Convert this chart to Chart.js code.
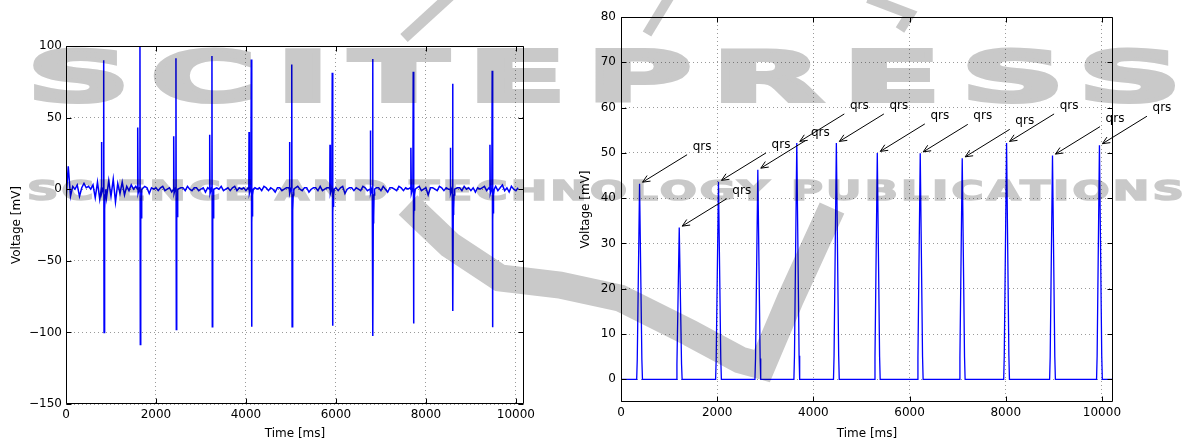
<!DOCTYPE html>
<html>
<head>
<meta charset="utf-8">
<title>ECG signal and QRS detection</title>
<script src="https://cdn.jsdelivr.net/npm/chart.js@4.4.1/dist/chart.umd.min.js"></script>
<style>
  html, body { margin: 0; padding: 0; background: #fff; }
  #page { position: relative; width: 1192px; height: 444px; overflow: hidden; background: #fff; }
  #charts { position: absolute; left: 0; top: 0; width: 1192px; height: 444px; }
  #wm { position: absolute; left: 0; top: 0; width: 1192px; height: 444px; mix-blend-mode: multiply; }
  .wm { position: absolute; left: 0; color: #c9c9c9; font-family: "DejaVu Sans"; font-weight: bold;
        white-space: nowrap; transform-origin: 0 0; }
  #wm-title { top: 42px; font-size: 70px; line-height: 70px; letter-spacing: 10px;
              -webkit-text-stroke: 4px #c9c9c9; }
  #wm-sub { top: 177px; font-size: 27px; line-height: 27px; letter-spacing: 2px;
            -webkit-text-stroke: 1.5px #c9c9c9; }
  #wm-shapes { position: absolute; left: 0; top: 0; }
  canvas { position: absolute; top: 0; }
  #ecgChart { left: 0; }
  #qrsChart { left: 540px; }
</style>
</head>
<body>
<div id="page">
  <div id="charts">
    <canvas id="ecgChart" width="540" height="444"></canvas>
    <canvas id="qrsChart" width="652" height="444"></canvas>
  </div>
  <div id="wm">
    <div class="wm" id="wm-title">SCITEPRESS</div>
    <div class="wm" id="wm-sub">SCIENCE AND TECHNOLOGY PUBLICATIONS</div>
    <svg id="wm-shapes" width="1192" height="444">
      <g fill="none" stroke="#c9c9c9">
        <polyline points="408,205 450,245 500,278 560,285 620,298 690,333 740,360 762,366 790,300 832,208" stroke-width="27" />
        <line x1="450" y1="-4" x2="404" y2="38" stroke-width="11" />
        <line x1="670" y1="-4" x2="647" y2="34" stroke-width="10" />
        <polyline points="868,-2 910,14 900,30" stroke-width="10" />
      </g>
    </svg>
  </div>
</div>
<script>
// --- Left panel: raw ECG (mV), baseline sampled every 50 ms ---
const ecgStepMs = 50;
const ecgNoise = [
  -8, 16, -5, 2, 0, 3, -5, 1, 4, 1, 2, 0,
  3, -6, 5, -7, 4, 0,
  -6, 6, -5, 7, -9, 4, -3, 5, -4,
  2, -1, 3, 0, 2, -1, 0,
  -1, 2, 1, -3, 1, 0, 1, -1, 1, 2, -1, 0, 1, -2, 1, 0,
  -4, 1, 1, -1, 2, 0, -1, 1, 1, -1, 0, 1, -2, 1, 0, 0,
  -3, 1, 0, 2, -1, 0, 1, -1, 1, 2, -1, 1, 0, 1, -1, 1, 0,
  -4, 1, 0, 1, -1, 2, 1, -1, 1, 0, -2, 1, 1, -1, 0, 1, 1, 0,
  -3, 1, 2, 0, -1, 1, 1, -2, 0, 1, 1, -1, 2, -1, 0, 1, 1, 0,
  -4, 1, -1, 1, 2, -3, 0, 1, 1, -1, 1, 0, -1, 2, 1, -1, 0, 0,
  -5, 1, 1, -1, 2, 0, -2, 1, 1, 0, -1, 2, 1, -1, 1, 0, 1, 0,
  -3, 1, 2, -1, 0, 1, -4, 1, 1, 0, -1, 2, 1, -1, 1, 0, 1, 0,
  -4, 1, 1, -1, 2, 0, 1, -1, 1, -2, 1, 0, 1, 2, -1, 1, 0,
  -3, 2, -1, 1, 3, -1, 1, -2, 2, 0, -1, 1
];
const beatTimes  = [838, 1644, 2444, 3244, 4118, 5018, 5918, 6815, 7718, 8593, 9473];
const beatPre    = [33, 43, 37, 38, 40, 33, 31, 41, 29, 29, 31];
const beatPeak   = [90, 100, 91.5, 93, 90.6, 87, 81.4, 91, 82, 73.7, 82.8];
const beatTrough = [-100, -108.5, -98, -96, -96, -96, -95.3, -102.5, -93.7, -85, -96.4];
const beatSt     = [-18, -24, -23, -24, -23, -19, -16.5, -23.5, -19, -17.5, -21];
const beatOffsets = [-55, -50, -42, -8, 0, 8, 14, 20, 26, 32, 45];

const ecgXTicks = [0, 2000, 4000, 6000, 8000, 10000];
const ecgYTicks = [-150, -100, -50, 0, 50, 100];

// --- Right panel: QRS detector output (mV) ---
const qrsTimes = [386, 1211, 2027, 2845, 3655, 4478, 5329, 6222, 7095, 8017, 8972, 9948];
const qrsPeaks = [43.2, 33.5, 43.6, 46.3, 52.2, 52.2, 50, 49.9, 48.8, 52.2, 49.4, 51.7];
const qrsShapeOffsets = [-60, -48, 0, 48, 60];
const qrsShapeLevels  = [0, 0.1, 1, 0.1, 0];
const qrsEndTime = 10230;
const qrsLabel = 'qrs';
const qrsLabelDx = 1300;   // ms, text offset from the peak
const qrsLabelDy = 7.5;    // mV

const qrsXTicks = [0, 2000, 4000, 6000, 8000, 10000];
const qrsYTicks = [0, 10, 20, 30, 40, 50, 60, 70, 80];

Chart.defaults.font.family = '"DejaVu Sans"';
Chart.defaults.font.size = 12;
Chart.defaults.color = '#000';

// build ECG points
const ecgPoints = [];
ecgNoise.forEach((v, i) => {
  const t = i * ecgStepMs;
  if (beatTimes.some(b => Math.abs(t - b) <= 60)) return;
  ecgPoints.push({x: t, y: v});
});
beatTimes.forEach((t, i) => {
  const vals = [0, beatPre[i], -3, 1, beatPeak[i], beatTrough[i], beatSt[i], -6, beatSt[i] + 4, -4, 0];
  beatOffsets.forEach((o, k) => ecgPoints.push({x: t + o, y: vals[k]}));
});
ecgPoints.sort((a, b) => a.x - b.x);

// build QRS points
const qrsPoints = [{x: 0, y: 0}];
qrsTimes.forEach((t, i) => {
  qrsShapeOffsets.forEach((o, k) => qrsPoints.push({x: t + o, y: qrsPeaks[i] * qrsShapeLevels[k]}));
});
qrsPoints.push({x: qrsEndTime, y: 0});

const minus = v => String(v).replace('-', '\u2212');

// full box + inward ticks like the classic matplotlib look
const frameTicks = {
  id: 'frameTicks',
  afterDatasetsDraw(chart) {
    const {ctx, chartArea: a, scales: {x, y}} = chart;
    const L = Math.round(a.left) + 0.5, R = Math.round(a.right) - 0.5;
    const T = Math.round(a.top) + 0.5, B = Math.round(a.bottom) - 0.5;
    ctx.save();
    ctx.strokeStyle = '#000';
    ctx.lineWidth = 1;
    ctx.beginPath();
    x.ticks.forEach(t => {
      const px = Math.round(x.getPixelForValue(t.value)) + 0.5;
      ctx.moveTo(px, B); ctx.lineTo(px, B - 5);
      ctx.moveTo(px, T); ctx.lineTo(px, T + 5);
    });
    y.ticks.forEach(t => {
      const py = Math.round(y.getPixelForValue(t.value)) + 0.5;
      ctx.moveTo(L, py); ctx.lineTo(L + 5, py);
      ctx.moveTo(R, py); ctx.lineTo(R - 5, py);
    });
    ctx.rect(L, T, R - L, B - T);
    ctx.stroke();
    ctx.restore();
  }
};

// "qrs" labels with open arrows
const qrsArrows = {
  id: 'qrsArrows',
  afterDatasetsDraw(chart) {
    const {ctx, scales: {x, y}} = chart;
    ctx.save();
    ctx.font = '12px "DejaVu Sans"';
    ctx.fillStyle = '#000';
    ctx.strokeStyle = '#000';
    ctx.lineWidth = 1;
    ctx.textAlign = 'center';
    ctx.textBaseline = 'alphabetic';
    qrsTimes.forEach((t, i) => {
      const px = x.getPixelForValue(t), py = y.getPixelForValue(qrsPeaks[i]);
      const tx = x.getPixelForValue(t + qrsLabelDx), ty = y.getPixelForValue(qrsPeaks[i] + qrsLabelDy);
      ctx.fillText(qrsLabel, tx, ty);
      const x0 = tx - 15, y0 = ty + 5, x1 = px + 3, y1 = py - 1.5;
      const ang = Math.atan2(y1 - y0, x1 - x0);
      ctx.beginPath();
      ctx.moveTo(x0, y0); ctx.lineTo(x1, y1);
      ctx.moveTo(x1 - 8 * Math.cos(ang - 0.42), y1 - 8 * Math.sin(ang - 0.42));
      ctx.lineTo(x1, y1);
      ctx.lineTo(x1 - 8 * Math.cos(ang + 0.42), y1 - 8 * Math.sin(ang + 0.42));
      ctx.stroke();
    });
    ctx.restore();
  }
};

function axisOptions(cfg) {
  return {
    x: {
      type: 'linear', min: cfg.xMin, max: cfg.xMax,
      afterBuildTicks: s => { s.ticks = cfg.xTicks.map(v => ({value: v})); },
      afterFit: s => { s.height = cfg.xHeight; },
      ticks: { padding: 4, maxRotation: 0, autoSkip: false, callback: v => minus(v) },
      grid: { color: '#9a9a9a', lineWidth: 1, drawTicks: false },
      border: { display: false, dash: [1, 3] },
      title: { display: true, text: 'Time [ms]', padding: {top: 0, bottom: 3} }
    },
    y: {
      type: 'linear', min: cfg.yMin, max: cfg.yMax,
      afterBuildTicks: s => { s.ticks = cfg.yTicks.map(v => ({value: v})); },
      afterFit: s => { s.width = cfg.yWidth; },
      ticks: { padding: cfg.yPad, autoSkip: false, callback: v => minus(v) },
      grid: { color: '#9a9a9a', lineWidth: 1, drawTicks: false },
      border: { display: false, dash: [1, 3] },
      title: { display: true, text: 'Voltage [mV]', padding: {top: cfg.yTitlePad, bottom: 0} }
    }
  };
}

const common = {
  responsive: false,
  animation: false,
  events: [],
  plugins: { legend: { display: false }, tooltip: { enabled: false } },
  elements: { point: { radius: 0 }, line: { tension: 0 } }
};

new Chart(document.getElementById('ecgChart'), {
  type: 'line',
  data: { datasets: [{ data: ecgPoints, borderColor: '#0000ff', borderWidth: 1.5, fill: false }] },
  options: Object.assign({}, common, {
    layout: { padding: { left: 0, top: 46, right: 16, bottom: 0 } },
    scales: axisOptions({ xMin: 0, xMax: 10180, xTicks: ecgXTicks, xHeight: 40,
                          yMin: -150, yMax: 100, yTicks: ecgYTicks, yWidth: 66, yPad: 4, yTitlePad: 10 })
  }),
  plugins: [frameTicks]
});

new Chart(document.getElementById('qrsChart'), {
  type: 'line',
  data: { datasets: [{ data: qrsPoints, borderColor: '#0000ff', borderWidth: 1.3, fill: false }] },
  options: Object.assign({}, common, {
    layout: { padding: { left: 0, top: 17, right: 79, bottom: 0 } },
    scales: axisOptions({ xMin: 0, xMax: qrsEndTime, xTicks: qrsXTicks, xHeight: 42,
                          yMin: -5, yMax: 80, yTicks: qrsYTicks, yWidth: 81, yPad: 5, yTitlePad: 39 })
  }),
  plugins: [frameTicks, qrsArrows]
});

// stretch the watermark lines to the width they cover in the figure
function fitWatermark(id, left, width) {
  const el = document.getElementById(id);
  const w = el.getBoundingClientRect().width;
  el.style.left = left + 'px';
  el.style.transform = 'scaleX(' + (width / w) + ')';
}
fitWatermark('wm-title', 27, 1175);
fitWatermark('wm-sub', 27, 1160);
</script>
</body>
</html>
